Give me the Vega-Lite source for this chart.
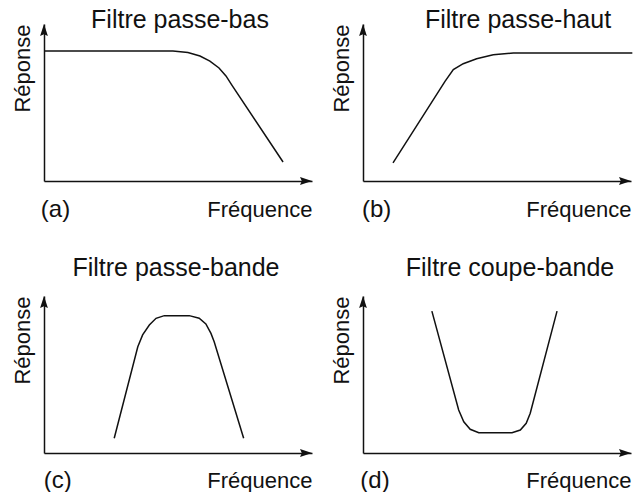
{
  "$schema": "https://vega.github.io/schema/vega-lite/v6.json",
  "background": "white",
  "padding": {"left": 10, "top": 8, "right": 0, "bottom": 0},
  "config": {
    "font": "Liberation Sans",
    "view": {"stroke": null},
    "axis": {"domainColor": "#111", "domainWidth": 1.5, "ticks": false, "grid": false, "labelColor": "#111", "titleColor": "#111", "labelFont": "Liberation Sans", "titleFont": "Liberation Sans", "titleFontWeight": "normal"},
    "title": {"fontSize": 25, "fontWeight": "normal", "color": "#111", "font": "Liberation Sans"},
    "line": {"color": "#111", "strokeWidth": 1.5}
  },
  "datasets": {
    "a": [
      {"f": 0, "r": 82.8}, {"f": 48.1, "r": 82.8}, {"f": 53.7, "r": 81.8}, {"f": 58.2, "r": 79.6},
      {"f": 61.9, "r": 76.4}, {"f": 65.3, "r": 72.0}, {"f": 67.9, "r": 66.9}, {"f": 70.1, "r": 61.1},
      {"f": 89.2, "r": 12.1}
    ],
    "b": [
      {"f": 11.2, "r": 11.5}, {"f": 30.6, "r": 63.5}, {"f": 33.7, "r": 70.9}, {"f": 37.4, "r": 74.7},
      {"f": 42.4, "r": 77.9}, {"f": 48.6, "r": 80.4}, {"f": 56.1, "r": 81.5}, {"f": 100.5, "r": 81.5}
    ],
    "c": [
      {"f": 26.2, "r": 9.4}, {"f": 35.0, "r": 67.7}, {"f": 36.8, "r": 75.2}, {"f": 39.3, "r": 81.5},
      {"f": 41.8, "r": 85.8}, {"f": 44.9, "r": 87.5}, {"f": 54.2, "r": 87.5}, {"f": 57.9, "r": 85.8},
      {"f": 60.4, "r": 82.2}, {"f": 62.3, "r": 76.2}, {"f": 63.5, "r": 70.9}, {"f": 74.5, "r": 9.4}
    ],
    "d": [
      {"f": 25.7, "r": 90.4}, {"f": 35.7, "r": 27.4}, {"f": 37.6, "r": 19.9}, {"f": 40.0, "r": 15.1},
      {"f": 43.2, "r": 12.9}, {"f": 55.6, "r": 12.9}, {"f": 58.7, "r": 14.6}, {"f": 60.9, "r": 18.9},
      {"f": 62.4, "r": 25.3}, {"f": 72.4, "r": 90.4}
    ]
  },
  "vconcat": [
    {
      "spacing": 17,
      "hconcat": [
        {
          "width": 268, "height": 157,
          "title": {"text": "Filtre passe-bas", "baseline": "alphabetic", "offset": -29, "dx": 2},
          "layer": [
            {
              "data": {"name": "a"},
              "mark": {"type": "line", "clip": false},
              "encoding": {
                "x": {"field": "f", "type": "quantitative", "scale": {"domain": [0, 100], "nice": false},
                  "axis": {"title": null, "values": [4.1, 100], "labelExpr": "datum.value < 50 ? '(a)' : 'Fréquence'",
                    "labelAlign": {"condition": {"test": "datum.value < 50", "value": "center"}, "value": "right"},
                    "labelFontSize": {"condition": {"test": "datum.value < 50", "value": 24}, "value": 22},
                    "labelBaseline": "alphabetic", "labelPadding": 35, "labelOverlap": false, "labelBound": false, "labelFlush": false}},
                "y": {"field": "r", "type": "quantitative", "scale": {"domain": [0, 100], "nice": false},
                  "axis": {"title": "Réponse", "titleAnchor": "end", "titleFontSize": 22, "titlePadding": 10, "labels": false}}
              }
            },
            {
              "data": {"values": [{}]},
              "mark": {"type": "point", "shape": "M0,0L-2,-0.65L-1.7,0L-2,0.65Z", "size": 144, "filled": true, "opacity": 1, "color": "#111", "clip": false},
              "encoding": {"x": {"datum": 100}, "y": {"datum": 0}}
            },
            {
              "data": {"values": [{}]},
              "mark": {"type": "point", "shape": "M0,0L-0.65,2L0,1.7L0.65,2Z", "size": 144, "filled": true, "opacity": 1, "color": "#111", "clip": false},
              "encoding": {"x": {"datum": 0}, "y": {"datum": 100}}
            }
          ]
        },
        {
          "width": 268, "height": 157,
          "title": {"text": "Filtre passe-haut", "baseline": "alphabetic", "offset": -29, "dx": 21},
          "layer": [
            {
              "data": {"name": "b"},
              "mark": {"type": "line", "clip": false},
              "encoding": {
                "x": {"field": "f", "type": "quantitative", "scale": {"domain": [0, 100], "nice": false},
                  "axis": {"title": null, "values": [4.9, 100], "labelExpr": "datum.value < 50 ? '(b)' : 'Fréquence'",
                    "labelAlign": {"condition": {"test": "datum.value < 50", "value": "center"}, "value": "right"},
                    "labelFontSize": {"condition": {"test": "datum.value < 50", "value": 24}, "value": 22},
                    "labelBaseline": "alphabetic", "labelPadding": 35, "labelOverlap": false, "labelBound": false, "labelFlush": false}},
                "y": {"field": "r", "type": "quantitative", "scale": {"domain": [0, 100], "nice": false},
                  "axis": {"title": "Réponse", "titleAnchor": "end", "titleFontSize": 22, "titlePadding": 10, "labels": false}}
              }
            },
            {
              "data": {"values": [{}]},
              "mark": {"type": "point", "shape": "M0,0L-2,-0.65L-1.7,0L-2,0.65Z", "size": 144, "filled": true, "opacity": 1, "color": "#111", "clip": false},
              "encoding": {"x": {"datum": 100}, "y": {"datum": 0}}
            },
            {
              "data": {"values": [{}]},
              "mark": {"type": "point", "shape": "M0,0L-0.65,2L0,1.7L0.65,2Z", "size": 144, "filled": true, "opacity": 1, "color": "#111", "clip": false},
              "encoding": {"x": {"datum": 0}, "y": {"datum": 100}}
            }
          ]
        }
      ]
    },
    {
      "spacing": 17,
      "hconcat": [
        {
          "width": 268, "height": 157,
          "title": {"text": "Filtre passe-bande", "baseline": "alphabetic", "offset": -5, "dx": -2},
          "layer": [
            {
              "data": {"name": "c"},
              "mark": {"type": "line", "clip": false},
              "encoding": {
                "x": {"field": "f", "type": "quantitative", "scale": {"domain": [0, 100], "nice": false},
                  "axis": {"title": null, "values": [4.9, 100], "labelExpr": "datum.value < 50 ? '(c)' : 'Fréquence'",
                    "labelAlign": {"condition": {"test": "datum.value < 50", "value": "center"}, "value": "right"},
                    "labelFontSize": {"condition": {"test": "datum.value < 50", "value": 24}, "value": 22},
                    "labelBaseline": "alphabetic", "labelPadding": 34, "labelOverlap": false, "labelBound": false, "labelFlush": false}},
                "y": {"field": "r", "type": "quantitative", "scale": {"domain": [0, 100], "nice": false},
                  "axis": {"title": "Réponse", "titleAnchor": "end", "titleFontSize": 22, "titlePadding": 10, "labels": false}}
              }
            },
            {
              "data": {"values": [{}]},
              "mark": {"type": "point", "shape": "M0,0L-2,-0.65L-1.7,0L-2,0.65Z", "size": 144, "filled": true, "opacity": 1, "color": "#111", "clip": false},
              "encoding": {"x": {"datum": 100}, "y": {"datum": 0}}
            },
            {
              "data": {"values": [{}]},
              "mark": {"type": "point", "shape": "M0,0L-0.65,2L0,1.7L0.65,2Z", "size": 144, "filled": true, "opacity": 1, "color": "#111", "clip": false},
              "encoding": {"x": {"datum": 0}, "y": {"datum": 100}}
            }
          ]
        },
        {
          "width": 268, "height": 157,
          "title": {"text": "Filtre coupe-bande", "baseline": "alphabetic", "offset": -5, "dx": 13},
          "layer": [
            {
              "data": {"name": "d"},
              "mark": {"type": "line", "clip": false},
              "encoding": {
                "x": {"field": "f", "type": "quantitative", "scale": {"domain": [0, 100], "nice": false},
                  "axis": {"title": null, "values": [4.3, 100], "labelExpr": "datum.value < 50 ? '(d)' : 'Fréquence'",
                    "labelAlign": {"condition": {"test": "datum.value < 50", "value": "center"}, "value": "right"},
                    "labelFontSize": {"condition": {"test": "datum.value < 50", "value": 24}, "value": 22},
                    "labelBaseline": "alphabetic", "labelPadding": 34, "labelOverlap": false, "labelBound": false, "labelFlush": false}},
                "y": {"field": "r", "type": "quantitative", "scale": {"domain": [0, 100], "nice": false},
                  "axis": {"title": "Réponse", "titleAnchor": "end", "titleFontSize": 22, "titlePadding": 10, "labels": false}}
              }
            },
            {
              "data": {"values": [{}]},
              "mark": {"type": "point", "shape": "M0,0L-2,-0.65L-1.7,0L-2,0.65Z", "size": 144, "filled": true, "opacity": 1, "color": "#111", "clip": false},
              "encoding": {"x": {"datum": 100}, "y": {"datum": 0}}
            },
            {
              "data": {"values": [{}]},
              "mark": {"type": "point", "shape": "M0,0L-0.65,2L0,1.7L0.65,2Z", "size": 144, "filled": true, "opacity": 1, "color": "#111", "clip": false},
              "encoding": {"x": {"datum": 0}, "y": {"datum": 100}}
            }
          ]
        }
      ]
    }
  ],
  "spacing": 35
}
